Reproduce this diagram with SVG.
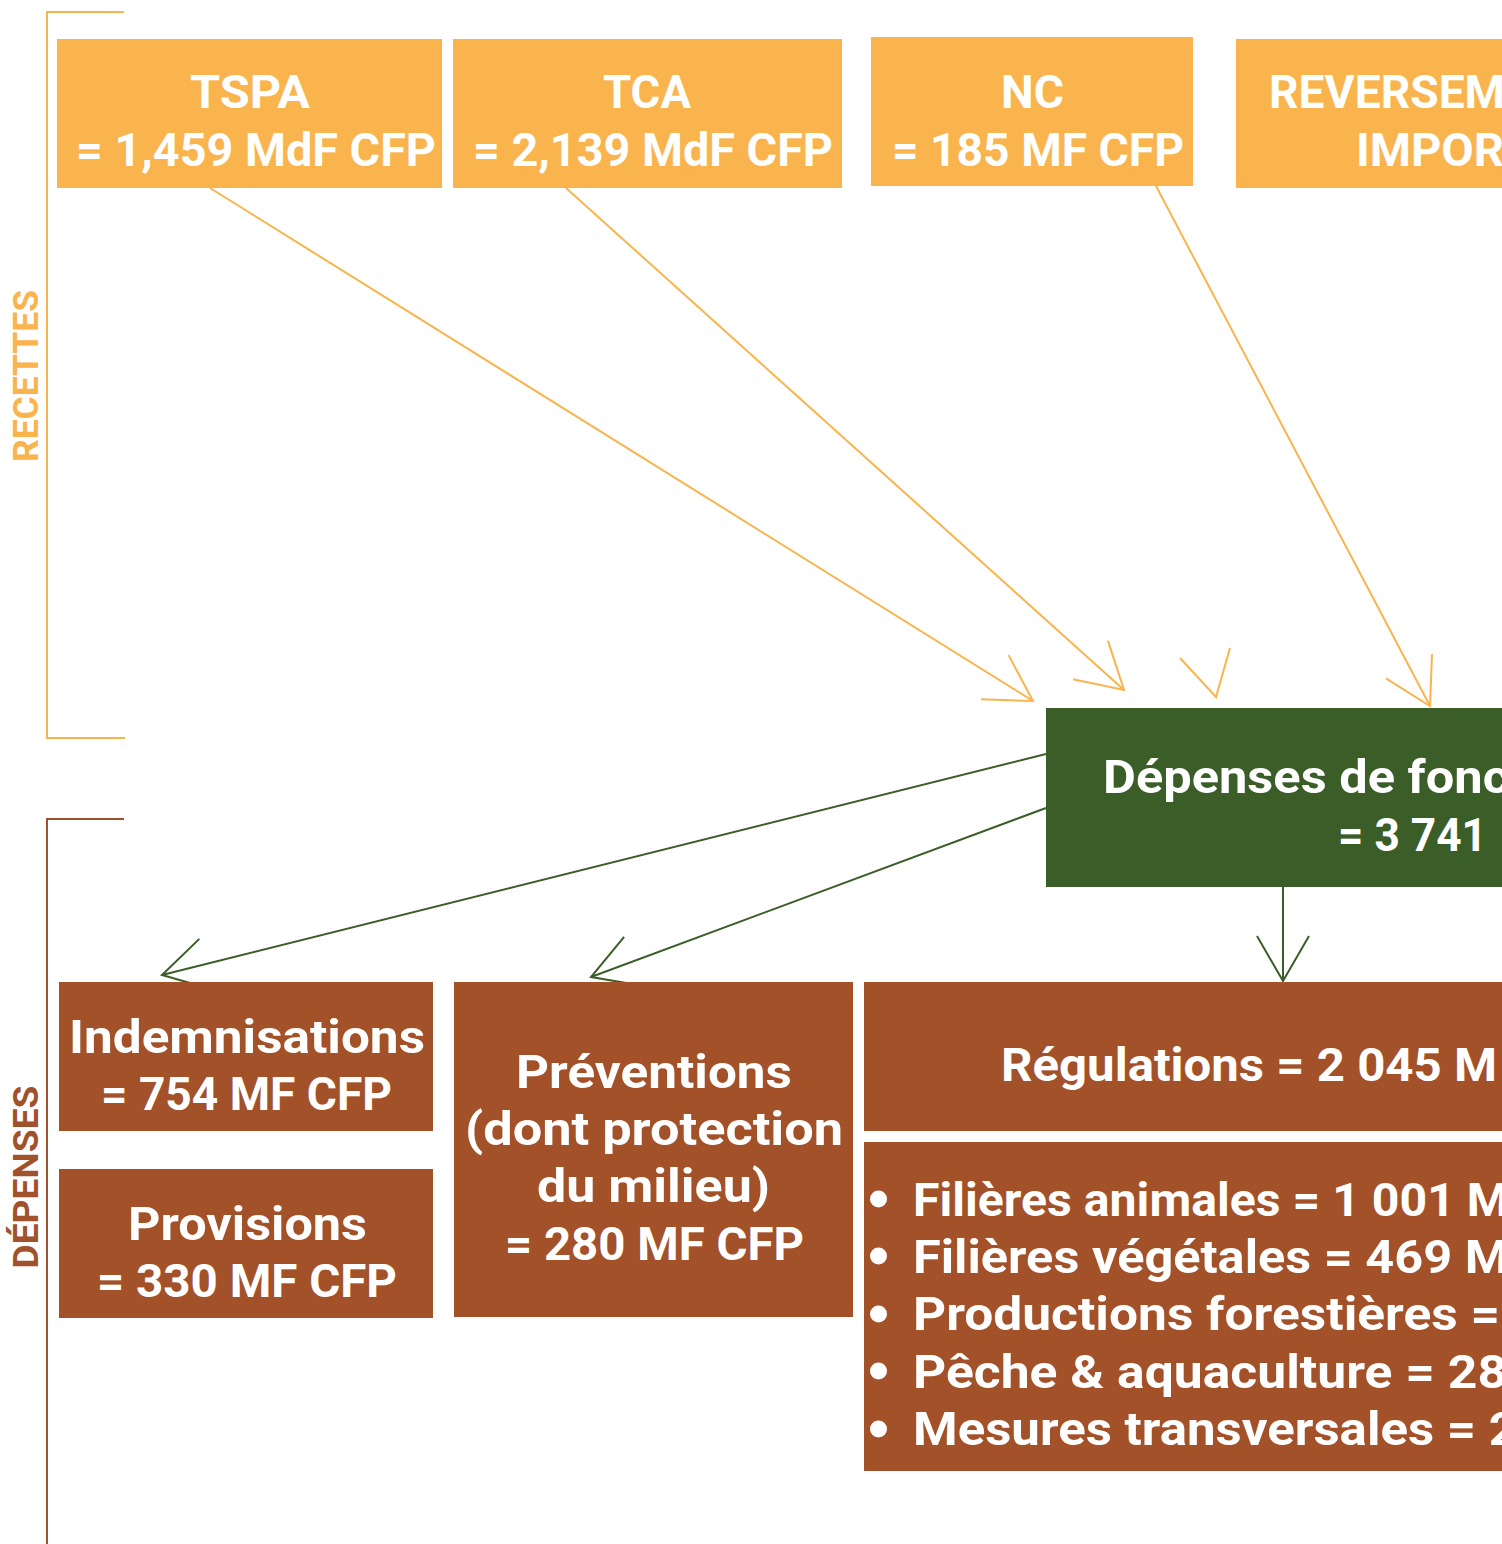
<svg xmlns="http://www.w3.org/2000/svg" width="1502" height="1544" viewBox="0 0 1502 1544">
<style>
.t{font-family:Roboto,"Liberation Sans",sans-serif;font-weight:bold;fill:#ffffff;font-size:46px}
.lbl{font-family:Roboto,"Liberation Sans",sans-serif;font-weight:bold;font-size:35px}
.org{fill:#F9B44E}
.grn{fill:#3B5D28}
.brn{fill:#A35129}
.co{fill:none;stroke:#F9B44E;stroke-width:2}
.cg{fill:none;stroke:#3B5D28;stroke-width:2}
.br1{fill:none;stroke:#F9B44E;stroke-width:2}
.br2{fill:none;stroke:#A0522D;stroke-width:2}
</style>
<defs>
<marker id="ao" markerUnits="userSpaceOnUse" markerWidth="60" markerHeight="60" viewBox="-55 -30 60 60" refX="0" refY="0" orient="auto">
<path d="M-45,-26 L0,0 L-45,26" fill="none" stroke="#F9B44E" stroke-width="2"/>
</marker>
<marker id="ag" markerUnits="userSpaceOnUse" markerWidth="60" markerHeight="60" viewBox="-55 -30 60 60" refX="0" refY="0" orient="auto">
<path d="M-45,-26 L0,0 L-45,26" fill="none" stroke="#3B5D28" stroke-width="2"/>
</marker>
</defs>

<g id="bracket-recettes">
<path class="br1" d="M124,12 H47 V738 H125"/>
<text class="lbl" fill="#F9B44E" transform="translate(38,376) rotate(-90)" text-anchor="middle" textLength="172" lengthAdjust="spacingAndGlyphs">RECETTES</text>
</g>
<g id="bracket-depenses">
<path class="br2" d="M124,819 H47 V1544"/>
<text class="lbl" fill="#A0522D" transform="translate(38,1177) rotate(-90)" text-anchor="middle" textLength="183" lengthAdjust="spacingAndGlyphs">DÉPENSES</text>
</g>

<g id="connectors">
<line class="co" x1="210" y1="188" x2="1033" y2="701" marker-end="url(#ao)"/>
<line class="co" x1="566" y1="188" x2="1124" y2="690" marker-end="url(#ao)"/>
<polyline class="co" points="1180,658 1216,697 1230,648"/>
<line class="co" x1="1156" y1="186" x2="1430" y2="706" marker-end="url(#ao)"/>
<line class="cg" x1="1046" y1="754" x2="162" y2="975" marker-end="url(#ag)"/>
<line class="cg" x1="1046" y1="808" x2="591" y2="977" marker-end="url(#ag)"/>
<line class="cg" x1="1283" y1="887" x2="1283" y2="981" marker-end="url(#ag)"/>
</g>

<g id="tspa">
<rect class="org" x="57" y="39" width="385" height="149"/>
<text class="t" x="190" y="108" textLength="120" lengthAdjust="spacingAndGlyphs">TSPA</text>
<text class="t" x="76" y="166" textLength="360" lengthAdjust="spacingAndGlyphs">= 1,459 MdF CFP</text>
</g>
<g id="tca">
<rect class="org" x="453" y="39" width="389" height="149"/>
<text class="t" x="603" y="108" textLength="88" lengthAdjust="spacingAndGlyphs">TCA</text>
<text class="t" x="473" y="166" textLength="360" lengthAdjust="spacingAndGlyphs">= 2,139 MdF CFP</text>
</g>
<g id="nc">
<rect class="org" x="871" y="37" width="322" height="149"/>
<text class="t" x="1001" y="108" textLength="63" lengthAdjust="spacingAndGlyphs">NC</text>
<text class="t" x="892" y="166" textLength="292" lengthAdjust="spacingAndGlyphs">= 185 MF CFP</text>
</g>
<g id="reversement">
<rect class="org" x="1236" y="39" width="270" height="149"/>
<text class="t" x="1269" y="108" textLength="236" lengthAdjust="spacingAndGlyphs">REVERSEM</text>
<text class="t" x="1356" y="166" textLength="148" lengthAdjust="spacingAndGlyphs">IMPOR</text>
</g>

<g id="depenses">
<rect class="grn" x="1046" y="708" width="460" height="179"/>
<text class="t" x="1103" y="793" textLength="406" lengthAdjust="spacingAndGlyphs">Dépenses de fonc</text>
<text class="t" x="1338" y="851" textLength="149" lengthAdjust="spacingAndGlyphs">= 3 741</text>
</g>

<g id="indemnisations">
<rect class="brn" x="59" y="982" width="374" height="149"/>
<text class="t" x="69" y="1053" textLength="356" lengthAdjust="spacingAndGlyphs">Indemnisations</text>
<text class="t" x="101" y="1110" textLength="291" lengthAdjust="spacingAndGlyphs">= 754 MF CFP</text>
</g>
<g id="provisions">
<rect class="brn" x="59" y="1169" width="374" height="149"/>
<text class="t" x="128" y="1240" textLength="239" lengthAdjust="spacingAndGlyphs">Provisions</text>
<text class="t" x="97" y="1297" textLength="300" lengthAdjust="spacingAndGlyphs">= 330 MF CFP</text>
</g>
<g id="preventions">
<rect class="brn" x="454" y="982" width="399" height="335"/>
<text class="t" x="516" y="1088" textLength="276" lengthAdjust="spacingAndGlyphs">Préventions</text>
<text class="t" x="465" y="1145" textLength="378" lengthAdjust="spacingAndGlyphs">(dont protection</text>
<text class="t" x="537" y="1202" textLength="233" lengthAdjust="spacingAndGlyphs">du milieu)</text>
<text class="t" x="505" y="1260" textLength="299" lengthAdjust="spacingAndGlyphs">= 280 MF CFP</text>
</g>
<g id="regulations">
<rect class="brn" x="864" y="982" width="642" height="149"/>
<text class="t" x="1001" y="1081" textLength="496" lengthAdjust="spacingAndGlyphs">Régulations = 2 045 M</text>
</g>
<g id="filieres">
<rect class="brn" x="864" y="1142" width="642" height="329"/>
<circle cx="878.5" cy="1199" r="8.5" fill="#ffffff"/>
<circle cx="878.5" cy="1256" r="8.5" fill="#ffffff"/>
<circle cx="878.5" cy="1314" r="8.5" fill="#ffffff"/>
<circle cx="878.5" cy="1371" r="8.5" fill="#ffffff"/>
<circle cx="878.5" cy="1429" r="8.5" fill="#ffffff"/>
<text class="t" x="913" y="1216" textLength="596" lengthAdjust="spacingAndGlyphs">Filières animales = 1 001 M</text>
<text class="t" x="913" y="1273" textLength="596" lengthAdjust="spacingAndGlyphs">Filières végétales = 469 M</text>
<text class="t" x="913" y="1330" textLength="587" lengthAdjust="spacingAndGlyphs">Productions forestières =</text>
<text class="t" x="913" y="1388" textLength="594" lengthAdjust="spacingAndGlyphs">Pêche &amp; aquaculture = 28</text>
<text class="t" x="913" y="1445" textLength="605" lengthAdjust="spacingAndGlyphs">Mesures transversales = 2</text>
</g>
</svg>
